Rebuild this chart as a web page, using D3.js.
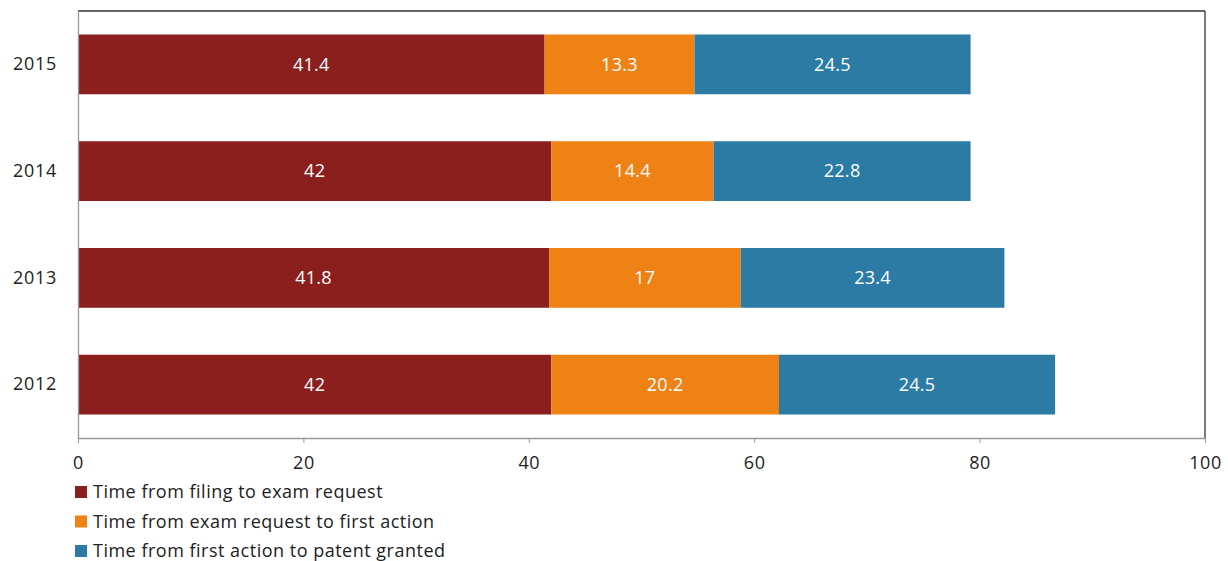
<!DOCTYPE html>
<html>
<head>
<meta charset="utf-8">
<script src="https://cdn.jsdelivr.net/npm/d3@7"></script>
<style>
  html, body { margin: 0; padding: 0; background: #fff; }
  svg text { font-family: "Open Sans", "Noto Sans", sans-serif; }
</style>
</head>
<body>
<svg id="chart" width="1228" height="561"></svg>
<script>
// Patent pendency components by year (months)
const years = ["2015", "2014", "2013", "2012"];
const filingToRequest = [41.4, 42, 41.8, 42];
const requestToFirstAction = [13.3, 14.4, 17, 20.2];
const firstActionToGrant = [24.5, 22.8, 23.4, 24.5];
const seriesNames = [
  "Time from filing to exam request",
  "Time from exam request to first action",
  "Time from first action to patent granted"
];
const seriesColors = ["#8B1F1E", "#EE8214", "#2B7BA5"];
const xTicks = [0, 20, 40, 60, 80, 100];

const rows = years.map((y, i) => ({
  year: y,
  s0: filingToRequest[i],
  s1: requestToFirstAction[i],
  s2: firstActionToGrant[i]
}));
const keys = ["s0", "s1", "s2"];
const stacked = d3.stack().keys(keys)(rows);

const svg = d3.select("#chart");
const m = { left: 78, right: 1205, top: 11, bottom: 438 };

const x = d3.scaleLinear().domain([0, 100]).range([m.left, m.right]);
const y = d3.scaleBand().domain(years).range([m.top, m.bottom]).paddingInner(0.44).paddingOuter(0.22);

// Frame: dark top and right edges
svg.append("line").attr("x1", m.left).attr("x2", m.right).attr("y1", m.top).attr("y2", m.top)
  .attr("stroke", "#333").attr("stroke-width", 1.3);
svg.append("line").attr("x1", m.right).attr("x2", m.right).attr("y1", m.top).attr("y2", m.bottom)
  .attr("stroke", "#333").attr("stroke-width", 1.3);

// Bars
const layers = svg.append("g").selectAll("g").data(stacked).join("g")
  .attr("fill", (d, i) => seriesColors[i]);
layers.selectAll("rect").data(d => d).join("rect")
  .attr("x", d => x(d[0]))
  .attr("width", d => x(d[1]) - x(d[0]))
  .attr("y", d => y(d.data.year))
  .attr("height", y.bandwidth());

// Value labels
layers.selectAll("text").data((d) => d.map(v => ({ v, key: d.key }))).join("text")
  .attr("x", d => (x(d.v[0]) + x(d.v[1])) / 2)
  .attr("y", d => y(d.v.data.year) + y.bandwidth() / 2)
  .attr("dy", "0.35em")
  .attr("text-anchor", "middle")
  .attr("fill", "#fff")
  .attr("font-size", 18)
  .attr("letter-spacing", 0.3)
  .text(d => d.v.data[d.key]);

// Y axis
const yAxis = svg.append("g").attr("transform", `translate(${m.left},0)`)
  .call(d3.axisLeft(y).tickSize(0).tickPadding(21));
yAxis.select(".domain").attr("stroke", "#999").attr("stroke-width", 1.3);
yAxis.selectAll("text").attr("font-size", 18).attr("letter-spacing", 0.7).attr("fill", "#222");

// X axis
const xAxis = svg.append("g").attr("transform", `translate(0,${m.bottom})`)
  .call(d3.axisBottom(x).tickValues(xTicks).tickSize(5).tickSizeOuter(0).tickPadding(13));
xAxis.select(".domain").attr("stroke", "#999").attr("stroke-width", 1.3);
xAxis.selectAll(".tick line").attr("stroke", "#999");
xAxis.selectAll("text").attr("font-size", 18).attr("letter-spacing", 0.6).attr("fill", "#222");

// Legend
const legend = svg.append("g").selectAll("g").data(seriesNames).join("g")
  .attr("transform", (d, i) => `translate(75,${492 + i * 29.5})`);
legend.append("rect").attr("width", 12).attr("height", 12).attr("y", -6)
  .attr("fill", (d, i) => seriesColors[i]);
legend.append("text").attr("x", 18).attr("dy", "0.35em")
  .attr("font-size", 18).attr("letter-spacing", 0.5).attr("fill", "#222").text(d => d);
</script>
</body>
</html>
